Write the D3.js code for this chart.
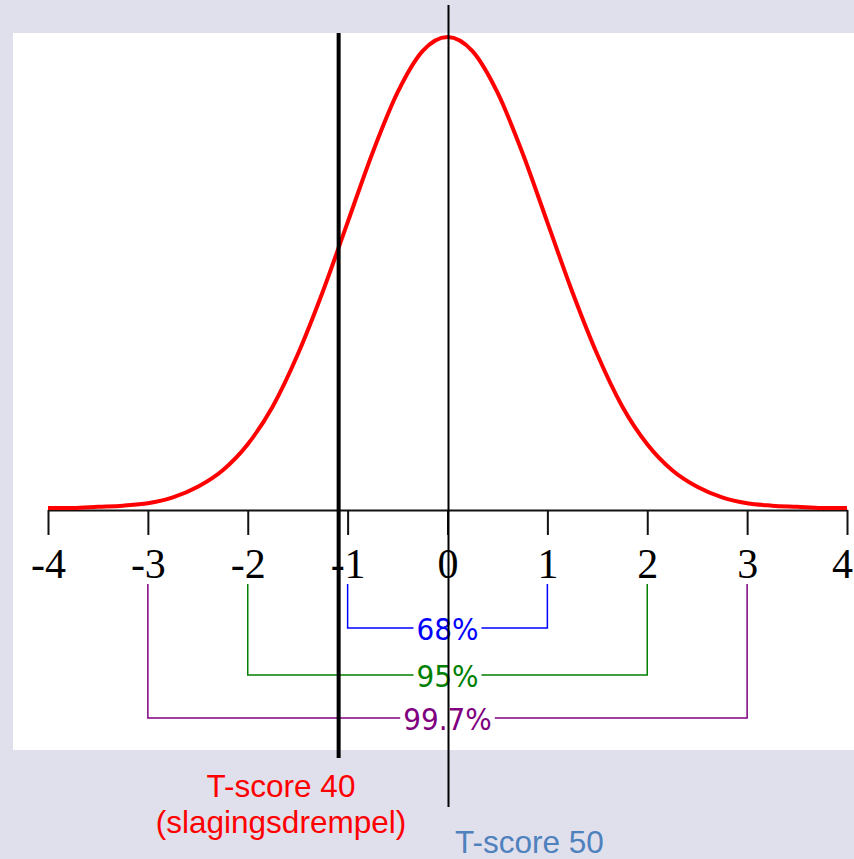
<!DOCTYPE html>
<html>
<head>
  <meta charset="utf8">
  <title>Normaalverdeling T-score</title>
  <script src="https://d3js.org/d3.v7.min.js"></script>
  <style>
    body { margin: 0; background: #e0dfec; }
  </style>
</head>
<body>
<script>

  // z-values along the x-axis and the curve heights (density)
  var zValues = [-4, -3.75, -3.5, -3.25, -3, -2.75, -2.5, -2.25, -2, -1.75, -1.5, -1.25, -1, -0.75, -0.5, -0.25,
                 0, 0.25, 0.5, 0.75, 1, 1.25, 1.5, 1.75, 2, 2.25, 2.5, 2.75, 3, 3.25, 3.5, 3.75, 4];
  var density = [0.000, 0.000, 0.001, 0.002, 0.004, 0.009, 0.018, 0.032, 0.054, 0.086, 0.130, 0.183, 0.242, 0.301, 0.352, 0.387,
                 0.399, 0.387, 0.352, 0.301, 0.242, 0.183, 0.130, 0.086, 0.054, 0.032, 0.018, 0.009, 0.004, 0.002, 0.001, 0.000, 0.000];

  var tickValues = [-4, -3, -2, -1, 0, 1, 2, 3, 4];
  var tickLabels = ["-4", "-3", "-2", "-1", "0", "1", "2", "3", "4"];

  // brackets: from, to, label
  var bandFrom = [-1, -2, -3];
  var bandTo = [1, 2, 3];
  var bandLabels = ["68%", "95%", "99.7%"];
  var bandColors = ["#0000ff", "#008000", "#800080"];

  // the two vertical markers
  var markerValues = [-1.09, 0.01];

  var width = 854, height = 859;

  var svg = d3.select("body").append("svg")
      .attr("width", width)
      .attr("height", height);

  svg.append("rect")
     .attr("width", width).attr("height", height)
     .attr("fill", "#e0dfec");

  // white plot panel
  svg.append("rect")
     .attr("x", 13).attr("y", 33)
     .attr("width", 841).attr("height", 717)
     .attr("fill", "#ffffff");

  var x = d3.scaleLinear().domain([-4, 4]).range([48, 847]),
      y = d3.scaleLinear().domain([0, 0.399]).range([508, 37]);

  var axisY = 510;

  // axis
  var axis = svg.append("g")
      .attr("transform", "translate(0," + axisY + ")")
      .call(d3.axisBottom(x)
               .tickValues(tickValues)
               .tickSize(25)
               .tickSizeOuter(0)
               .tickPadding(13)
               .tickFormat(function(d, i) { return tickLabels[i]; }));

  axis.select(".domain").attr("stroke", "#111").attr("stroke-width", 2);
  axis.selectAll(".tick line").attr("stroke", "#111").attr("stroke-width", 2);
  axis.selectAll(".tick text")
      .attr("fill", "#000")
      .attr("font-family", "'Liberation Serif', 'DejaVu Serif', serif")
      .attr("font-size", 42)
      .attr("dx", function(d) { return d === 4 ? -5 : 0; });

  // curve
  var line = d3.line()
      .x(function(d, i) { return x(zValues[i]); })
      .y(function(d) { return y(d); })
      .curve(d3.curveMonotoneX);

  svg.append("path")
     .datum(density)
     .attr("fill", "none")
     .attr("stroke", "#ff0000")
     .attr("stroke-width", 4)
     .attr("d", line);

  // brackets
  var bandY = [628, 675, 718];
  var bandTop = 584;

  var bands = svg.append("g").attr("class", "bands");
  bandLabels.forEach(function(label, i) {
    var g = bands.append("g");
    g.append("path")
     .attr("fill", "none")
     .attr("stroke", bandColors[i])
     .attr("stroke-width", 1.5)
     .attr("d", "M" + x(bandFrom[i]) + "," + bandTop +
                "V" + bandY[i] +
                "H" + x(bandTo[i]) +
                "V" + bandTop);
    var t = g.append("text")
     .attr("x", x(0))
     .attr("y", bandY[i] + 12)
     .attr("text-anchor", "middle")
     .attr("font-family", "'DejaVu Sans Condensed', 'DejaVu Sans', sans-serif")
     .attr("font-stretch", "condensed")
     .attr("font-size", 31)
     .attr("fill", bandColors[i])
     .text(label);
    var bb = t.node().getBBox();
    g.insert("rect", "text")
     .attr("x", bb.x - 3).attr("y", bandY[i] - 6)
     .attr("width", bb.width + 6).attr("height", 12)
     .attr("fill", "#ffffff");
  });

  // vertical markers
  svg.append("line")
     .attr("x1", x(markerValues[0])).attr("x2", x(markerValues[0]))
     .attr("y1", 33).attr("y2", 758)
     .attr("stroke", "#000").attr("stroke-width", 4);

  svg.append("line")
     .attr("x1", x(markerValues[1])).attr("x2", x(markerValues[1]))
     .attr("y1", 5).attr("y2", 807)
     .attr("stroke", "#000").attr("stroke-width", 2);

  // labels below
  var labelFont = "'Liberation Sans', Arial, sans-serif";
  svg.append("text")
     .attr("x", 281).attr("y", 797)
     .attr("text-anchor", "middle")
     .attr("font-family", labelFont).attr("font-size", 31.5)
     .attr("fill", "#ff0000")
     .text("T-score 40");
  svg.append("text")
     .attr("x", 281).attr("y", 833)
     .attr("text-anchor", "middle")
     .attr("font-family", labelFont).attr("font-size", 31.5)
     .attr("fill", "#ff0000")
     .text("(slagingsdrempel)");
  svg.append("text")
     .attr("x", 455).attr("y", 853)
     .attr("font-family", labelFont).attr("font-size", 31.5)
     .attr("fill", "#4f81bd")
     .text("T-score 50");

</script>
</body>
</html>
